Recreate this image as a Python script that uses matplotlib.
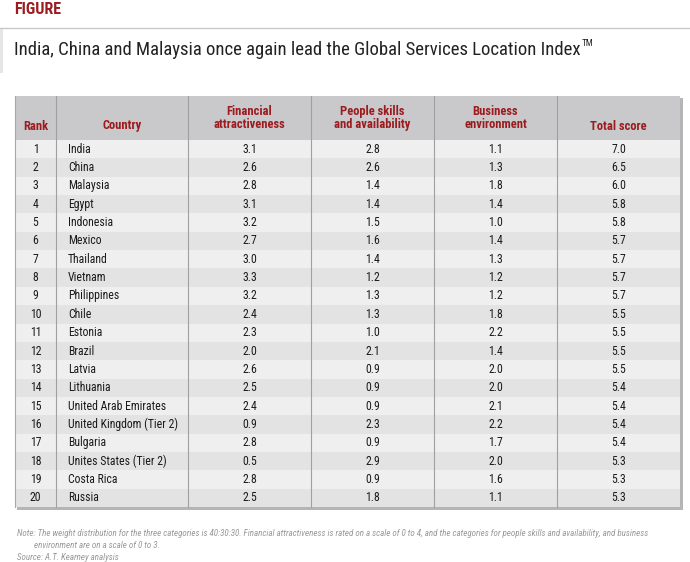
import matplotlib
matplotlib.use("Agg")
import matplotlib.pyplot as plt
from matplotlib import font_manager
from matplotlib.patches import Rectangle

# table data
ranks = list(range(1, 21))
countries = ["India", "China", "Malaysia", "Egypt", "Indonesia", "Mexico", "Thailand",
             "Vietnam", "Philippines", "Chile", "Estonia", "Brazil", "Latvia", "Lithuania",
             "United Arab Emirates", "United Kingdom (Tier 2)", "Bulgaria",
             "Unites States (Tier 2)", "Costa Rica", "Russia"]
financial = [3.1, 2.6, 2.8, 3.1, 3.2, 2.7, 3.0, 3.3, 3.2, 2.4, 2.3, 2.0, 2.6, 2.5, 2.4, 0.9, 2.8, 0.5, 2.8, 2.5]
people = [2.8, 2.6, 1.4, 1.4, 1.5, 1.6, 1.4, 1.2, 1.3, 1.3, 1.0, 2.1, 0.9, 0.9, 0.9, 2.3, 0.9, 2.9, 0.9, 1.8]
business = [1.1, 1.3, 1.8, 1.4, 1.0, 1.4, 1.3, 1.2, 1.2, 1.8, 2.2, 1.4, 2.0, 2.0, 2.1, 2.2, 1.7, 2.0, 1.6, 1.1]
total = [7.0, 6.5, 6.0, 5.8, 5.8, 5.7, 5.7, 5.7, 5.7, 5.5, 5.5, 5.5, 5.5, 5.4, 5.4, 5.4, 5.4, 5.3, 5.3, 5.3]
headers = ["Rank", "Country", "Financial\nattractiveness", "People skills\nand availability",
           "Business\nenvironment", "Total score"]

title = "India, China and Malaysia once again lead the Global Services Location Index"
note1 = ("Note: The weight distribution for the three categories is 40:30:30. Financial attractiveness is rated "
         "on a scale of 0 to 4, and the categories for people skills and availability, and business")
note2 = "environment are on a scale of 0 to 3."
source = "Source: A.T. Kearney analysis"

available = {f.name for f in font_manager.fontManager.ttflist}
font = "DejaVu Sans"
for cand in ["Roboto Condensed", "Liberation Sans Narrow", "DejaVu Sans Condensed"]:
    if cand in available:
        font = cand
        break
plt.rcParams["font.family"] = [font, "DejaVu Sans"]

red = "#9b1b1f"
fig = plt.figure(figsize=(6.9, 5.62), dpi=100)
ax = fig.add_axes([0, 0, 1, 1])
ax.set_xlim(0, 690)
ax.set_ylim(562, 0)
ax.axis("off")

# top header
ax.text(14, 9, "FIGURE", color=red, fontsize=11.5, fontweight="bold", va="center")
ax.plot([0, 690], [28, 28], color="#c8c8c8", lw=1)
ax.add_patch(Rectangle((0, 28), 3, 45, color="#e6e6e6", lw=0))
t = ax.text(14, 50, title, fontsize=13.5, va="center", color="#222222")
fig.canvas.draw()
bb = t.get_window_extent().transformed(ax.transData.inverted())
ax.text(bb.x1 + 1, 44, "TM", fontsize=6.5, va="center", color="#222222")

# table geometry
col_edges = [15, 56, 188, 311, 434, 557, 680]
top, head_bot, row_h = 96, 140, 18.35
bottom = head_bot + row_h * len(ranks)

# shadow
ax.add_patch(Rectangle((col_edges[0] + 2, top + 2), col_edges[-1] - col_edges[0] + 1,
                       bottom - top + 1, color="#b5b5b5", lw=0, zorder=0))
ax.add_patch(Rectangle((col_edges[0], top), col_edges[-1] - col_edges[0], head_bot - top,
                       color="#c9c9cb", lw=0, zorder=1))
for i in range(len(ranks)):
    y0 = head_bot + i * row_h
    c = "#efefef" if i % 2 == 0 else "#e3e3e4"
    ax.add_patch(Rectangle((col_edges[0], y0), col_edges[-1] - col_edges[0], row_h,
                           color=c, lw=0, zorder=1))

for x in col_edges[1:-1]:
    ax.plot([x, x], [top, bottom], color="#a0a0a0", lw=0.8, zorder=2)
ax.plot([col_edges[0], col_edges[0]], [top, bottom], color="#a8a8a8", lw=0.8, zorder=2)

# headers
centers = [(col_edges[i] + col_edges[i + 1]) / 2 for i in range(6)]
for j, h in enumerate(headers):
    ax.text(centers[j], 126 if "\n" not in h else 118, h, color=red, fontsize=9, fontweight="bold",
            ha="center", va="center", linespacing=1.05, zorder=3)

# rows
for i in range(len(ranks)):
    yc = head_bot + (i + 0.5) * row_h
    kw = dict(fontsize=8.5, va="center", color="#1a1a1a", zorder=3)
    ax.text(centers[0], yc, str(ranks[i]), ha="center", **kw)
    ax.text(68, yc, countries[i], ha="left", **kw)
    ax.text(centers[2], yc, f"{financial[i]:.1f}", ha="center", **kw)
    ax.text(centers[3], yc, f"{people[i]:.1f}", ha="center", **kw)
    ax.text(centers[4], yc, f"{business[i]:.1f}", ha="center", **kw)
    ax.text(centers[5], yc, f"{total[i]:.1f}", ha="center", **kw)

# notes
nkw = dict(fontsize=6.5, style="italic", color="#999999", va="center")
ax.text(17, 533, note1, **nkw)
ax.text(34, 545, note2, **nkw)
ax.text(17, 557, source, **nkw)

fig.savefig("out.png", dpi=100)
